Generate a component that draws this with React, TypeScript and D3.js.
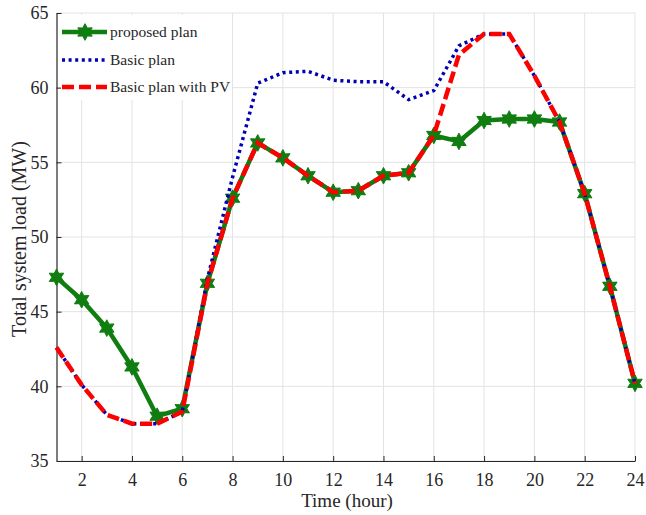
import { useEffect, useRef } from "react";
import * as d3 from "d3";

const hours = [1, 2, 3, 4, 5, 6, 7, 8, 9, 10, 11, 12, 13, 14, 15, 16, 17, 18, 19, 20, 21, 22, 23, 24];
const proposedPlan = [47.3, 45.8, 43.9, 41.3, 38.0, 38.5, 46.9, 52.6, 56.3, 55.3, 54.1, 53.0, 53.1, 54.1, 54.3, 56.8, 56.4, 57.8, 57.9, 57.9, 57.7, 52.9, 46.7, 40.2];
const basicPlan = [42.6, 40.1, 38.1, 37.5, 37.5, 38.3, 47.2, 54.0, 60.3, 61.0, 61.1, 60.5, 60.4, 60.4, 59.2, 59.8, 62.8, 63.6, 63.6, 60.8, 57.7, 52.9, 46.7, 40.2];
const basicPlanPV = [42.6, 40.1, 38.1, 37.5, 37.5, 38.3, 46.9, 52.6, 56.3, 55.3, 54.1, 53.0, 53.1, 54.1, 54.3, 56.8, 62.2, 63.6, 63.6, 60.8, 57.7, 52.9, 46.7, 40.2];
const xTicks = [2, 4, 6, 8, 10, 12, 14, 16, 18, 20, 22, 24];
const yTicks = [35, 40, 45, 50, 55, 60, 65];
const legendLabels = ["proposed plan", "Basic plan", "Basic plan with PV"];

const GREEN = "#0f7d0f";
const BLUE = "#0000b4";
const RED = "#ff0000";
const FONT = "'Liberation Serif', 'Times New Roman', serif";

// six pointed star (MATLAB 'hexagram')
const hexagram = {
  draw(ctx: any, size: number) {
    const r = Math.sqrt(size) * 0.62;
    const ri = r * 0.55;
    for (let i = 0; i < 12; i++) {
      const a = (Math.PI / 6) * i - Math.PI / 2;
      const rr = i % 2 === 0 ? r : ri;
      const px = rr * Math.cos(a);
      const py = rr * Math.sin(a);
      if (i === 0) ctx.moveTo(px, py);
      else ctx.lineTo(px, py);
    }
    ctx.closePath();
  },
};

function LoadChart() {
  const ref = useRef<HTMLDivElement>(null);

  useEffect(() => {
    const width = 646;
    const height = 515;
    const margin = { top: 13, right: 11, bottom: 54, left: 56.5 };

    d3.select(ref.current).selectAll("*").remove();

    const svg = d3
      .select(ref.current)
      .append("svg")
      .attr("width", width)
      .attr("height", height)
      .style("position", "absolute")
      .style("left", "0px")
      .style("top", "0px")
      .style("font-family", FONT);

    svg.append("rect").attr("width", width).attr("height", height).attr("fill", "#fff");

    const x = d3.scaleLinear().domain([1, 24]).range([margin.left, width - margin.right]);
    const y = d3.scaleLinear().domain([35, 65]).range([height - margin.bottom, margin.top]);

    // grid
    const grid = svg.append("g").attr("stroke", "#e3e3e3").attr("stroke-width", 1);
    grid
      .selectAll("line.gx")
      .data(xTicks)
      .join("line")
      .attr("x1", (d) => x(d))
      .attr("x2", (d) => x(d))
      .attr("y1", y(35))
      .attr("y2", y(65));
    grid
      .selectAll("line.gy")
      .data(yTicks)
      .join("line")
      .attr("x1", x(1))
      .attr("x2", x(24))
      .attr("y1", (d) => y(d))
      .attr("y2", (d) => y(d));

    // axes
    const xAxis = svg
      .append("g")
      .attr("transform", `translate(0,${y(35)})`)
      .call(d3.axisBottom(x).tickValues(xTicks).tickSizeInner(-5).tickSizeOuter(0).tickPadding(12));
    const yAxis = svg
      .append("g")
      .attr("transform", `translate(${x(1)},0)`)
      .call(d3.axisLeft(y).tickValues(yTicks).tickSizeInner(-5).tickSizeOuter(0).tickPadding(8));
    [xAxis, yAxis].forEach((g) => {
      g.select(".domain").attr("stroke", "#262626").attr("stroke-width", 1.2);
      g.selectAll(".tick line").attr("stroke", "#262626");
      g.selectAll(".tick text")
        .attr("fill", "#262626")
        .style("font-family", FONT)
        .style("font-size", "18px");
    });

    const line = d3
      .line<number>()
      .x((_, i) => x(hours[i]))
      .y((d) => y(d));

    const plot = svg.append("g");
    plot
      .append("path")
      .datum(proposedPlan)
      .attr("fill", "none")
      .attr("stroke", GREEN)
      .attr("stroke-width", 4.5)
      .attr("stroke-linejoin", "round")
      .attr("d", line);
    const sym = d3.symbol().type(hexagram as any).size(180);
    plot
      .selectAll("path.mk")
      .data(proposedPlan)
      .join("path")
      .attr("transform", (d, i) => `translate(${x(hours[i])},${y(d)})`)
      .attr("d", sym)
      .attr("fill", GREEN)
      .attr("stroke", GREEN)
      .attr("stroke-width", 1);
    plot
      .append("path")
      .datum(basicPlan)
      .attr("fill", "none")
      .attr("stroke", BLUE)
      .attr("stroke-width", 3.5)
      .attr("stroke-dasharray", "3,3.6")
      .attr("d", line);
    plot
      .append("path")
      .datum(basicPlanPV)
      .attr("fill", "none")
      .attr("stroke", RED)
      .attr("stroke-width", 4.5)
      .attr("stroke-dasharray", "12,5")
      .attr("d", line);

    // legend
    const lg = svg.append("g");
    lg.append("rect").attr("x", 61).attr("y", 15).attr("width", 171).attr("height", 85).attr("fill", "#fff");
    const rowY = [32, 60, 87];
    legendLabels.forEach((label, i) => {
      const row = lg.append("g").attr("transform", `translate(0,${rowY[i]})`);
      const seg = row.append("line").attr("x1", 62).attr("x2", 107).attr("y1", 0).attr("y2", 0);
      if (i === 0) {
        seg.attr("stroke", GREEN).attr("stroke-width", 4.5);
        row
          .append("path")
          .attr("transform", "translate(85,0)")
          .attr("d", sym)
          .attr("fill", GREEN)
          .attr("stroke", GREEN);
      } else if (i === 1) {
        seg.attr("stroke", BLUE).attr("stroke-width", 3.5).attr("stroke-dasharray", "3,3.6");
      } else {
        seg.attr("stroke", RED).attr("stroke-width", 4.5).attr("stroke-dasharray", "12,5");
      }
      row
        .append("text")
        .attr("x", 110)
        .attr("y", 0)
        .attr("dy", "0.35em")
        .attr("fill", "#262626")
        .style("font-size", "15.5px")
        .text(label);
    });

    // axis titles
    svg
      .append("text")
      .attr("x", 347)
      .attr("y", 507)
      .attr("text-anchor", "middle")
      .attr("fill", "#262626")
      .style("font-size", "19px")
      .text("Time (hour)");
    svg
      .append("text")
      .attr("transform", `translate(18.5,239) rotate(-90)`)
      .attr("dy", "0.35em")
      .attr("text-anchor", "middle")
      .attr("fill", "#262626")
      .style("font-size", "20px")
      .text("Total system load (MW)");
  }, []);

  return <div ref={ref}></div>;
}

export default function App() {
  return <LoadChart />;
}
